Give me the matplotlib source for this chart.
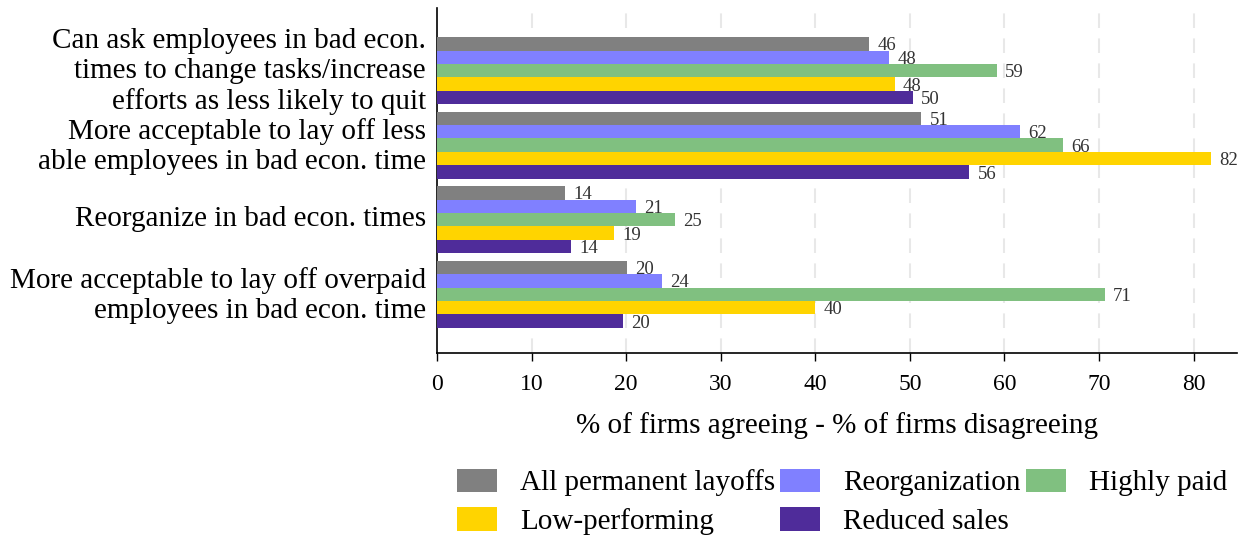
import matplotlib
matplotlib.use("Agg")
import matplotlib.pyplot as plt
import matplotlib.transforms as mtransforms
import numpy as np

plt.rcParams['font.family'] = ['Liberation Serif', 'DejaVu Serif']

categories = [
    "Can ask employees in bad econ.\ntimes to change tasks/increase\nefforts as less likely to quit",
    "More acceptable to lay off less\nable employees in bad econ. time",
    "Reorganize in bad econ. times",
    "More acceptable to lay off overpaid\nemployees in bad econ. time",
]
series_names = ["All permanent layoffs", "Reorganization", "Highly paid",
                "Low-performing", "Reduced sales"]
all_layoffs = [45.7, 51.2, 13.5, 20.1]
reorganization = [47.8, 61.6, 21.0, 23.8]
highly_paid = [59.2, 66.2, 25.2, 70.6]
low_performing = [48.4, 81.8, 18.7, 40.0]
reduced_sales = [50.3, 56.3, 14.2, 19.7]
label_values = [
    [46, 51, 14, 20],
    [48, 62, 21, 24],
    [59, 66, 25, 71],
    [48, 82, 19, 40],
    [50, 56, 14, 20],
]
series = [all_layoffs, reorganization, highly_paid, low_performing, reduced_sales]
colors = ["#808080", "#8080FF", "#80C080", "#FFD400", "#4F2C9A"]

fig = plt.figure(figsize=(12.46, 5.35), dpi=100)
ax = fig.add_axes([0.3507, 0.340, 0.9928 - 0.3507, 0.985 - 0.340])

pos = np.array([3, 2, 1, 0], dtype=float)
h = 0.18
handles = []
for i, (vals, c, name) in enumerate(zip(series, colors, series_names)):
    y = pos + (2 - i) * h
    b = ax.barh(y, vals, height=h, color=c, label=name, zorder=3)
    handles.append(b)
    for yy, v, lab in zip(y, vals, label_values[i]):
        ax.annotate(str(lab), (v, yy), xytext=(6, -1.5), textcoords='offset points',
                    va='center', ha='left', fontsize=13.5, color='#333333', zorder=4)

ax.set_xlim(0, 84.6)
ax.set_ylim(-0.79, 3.84)
ax.set_xticks(np.arange(0, 81, 10))
ax.set_yticks(pos)
ax.set_yticklabels(categories, fontsize=21, linespacing=1.2)
ax.tick_params(axis='y', length=0, pad=8)
ax.tick_params(axis='x', length=6, width=1, labelsize=17, pad=9)
shift = mtransforms.ScaledTranslation(0, 0.04, fig.dpi_scale_trans)
for lab in ax.get_yticklabels():
    lab.set_transform(lab.get_transform() + shift)
for x in range(10, 81, 10):
    ax.axvline(x, color='#e8e8e8', lw=1.5, ls=(0, (7, 5)), zorder=1)
for s in ['top', 'right']:
    ax.spines[s].set_visible(False)
ax.spines['left'].set_linewidth(1.2)
ax.spines['bottom'].set_linewidth(1.2)
ax.set_xlabel("% of firms agreeing - % of firms disagreeing", fontsize=21, labelpad=12)

order = [0, 3, 1, 4, 2]
leg = fig.legend([handles[k] for k in order], [series_names[k] for k in order],
                 ncol=3, loc='lower left', bbox_to_anchor=(0.3458, -0.049),
                 frameon=False, fontsize=21, handlelength=1.37, handleheight=0.86,
                 columnspacing=0.17, handletextpad=0.79, labelspacing=0.37)

fig.savefig("out.png", dpi=100)
